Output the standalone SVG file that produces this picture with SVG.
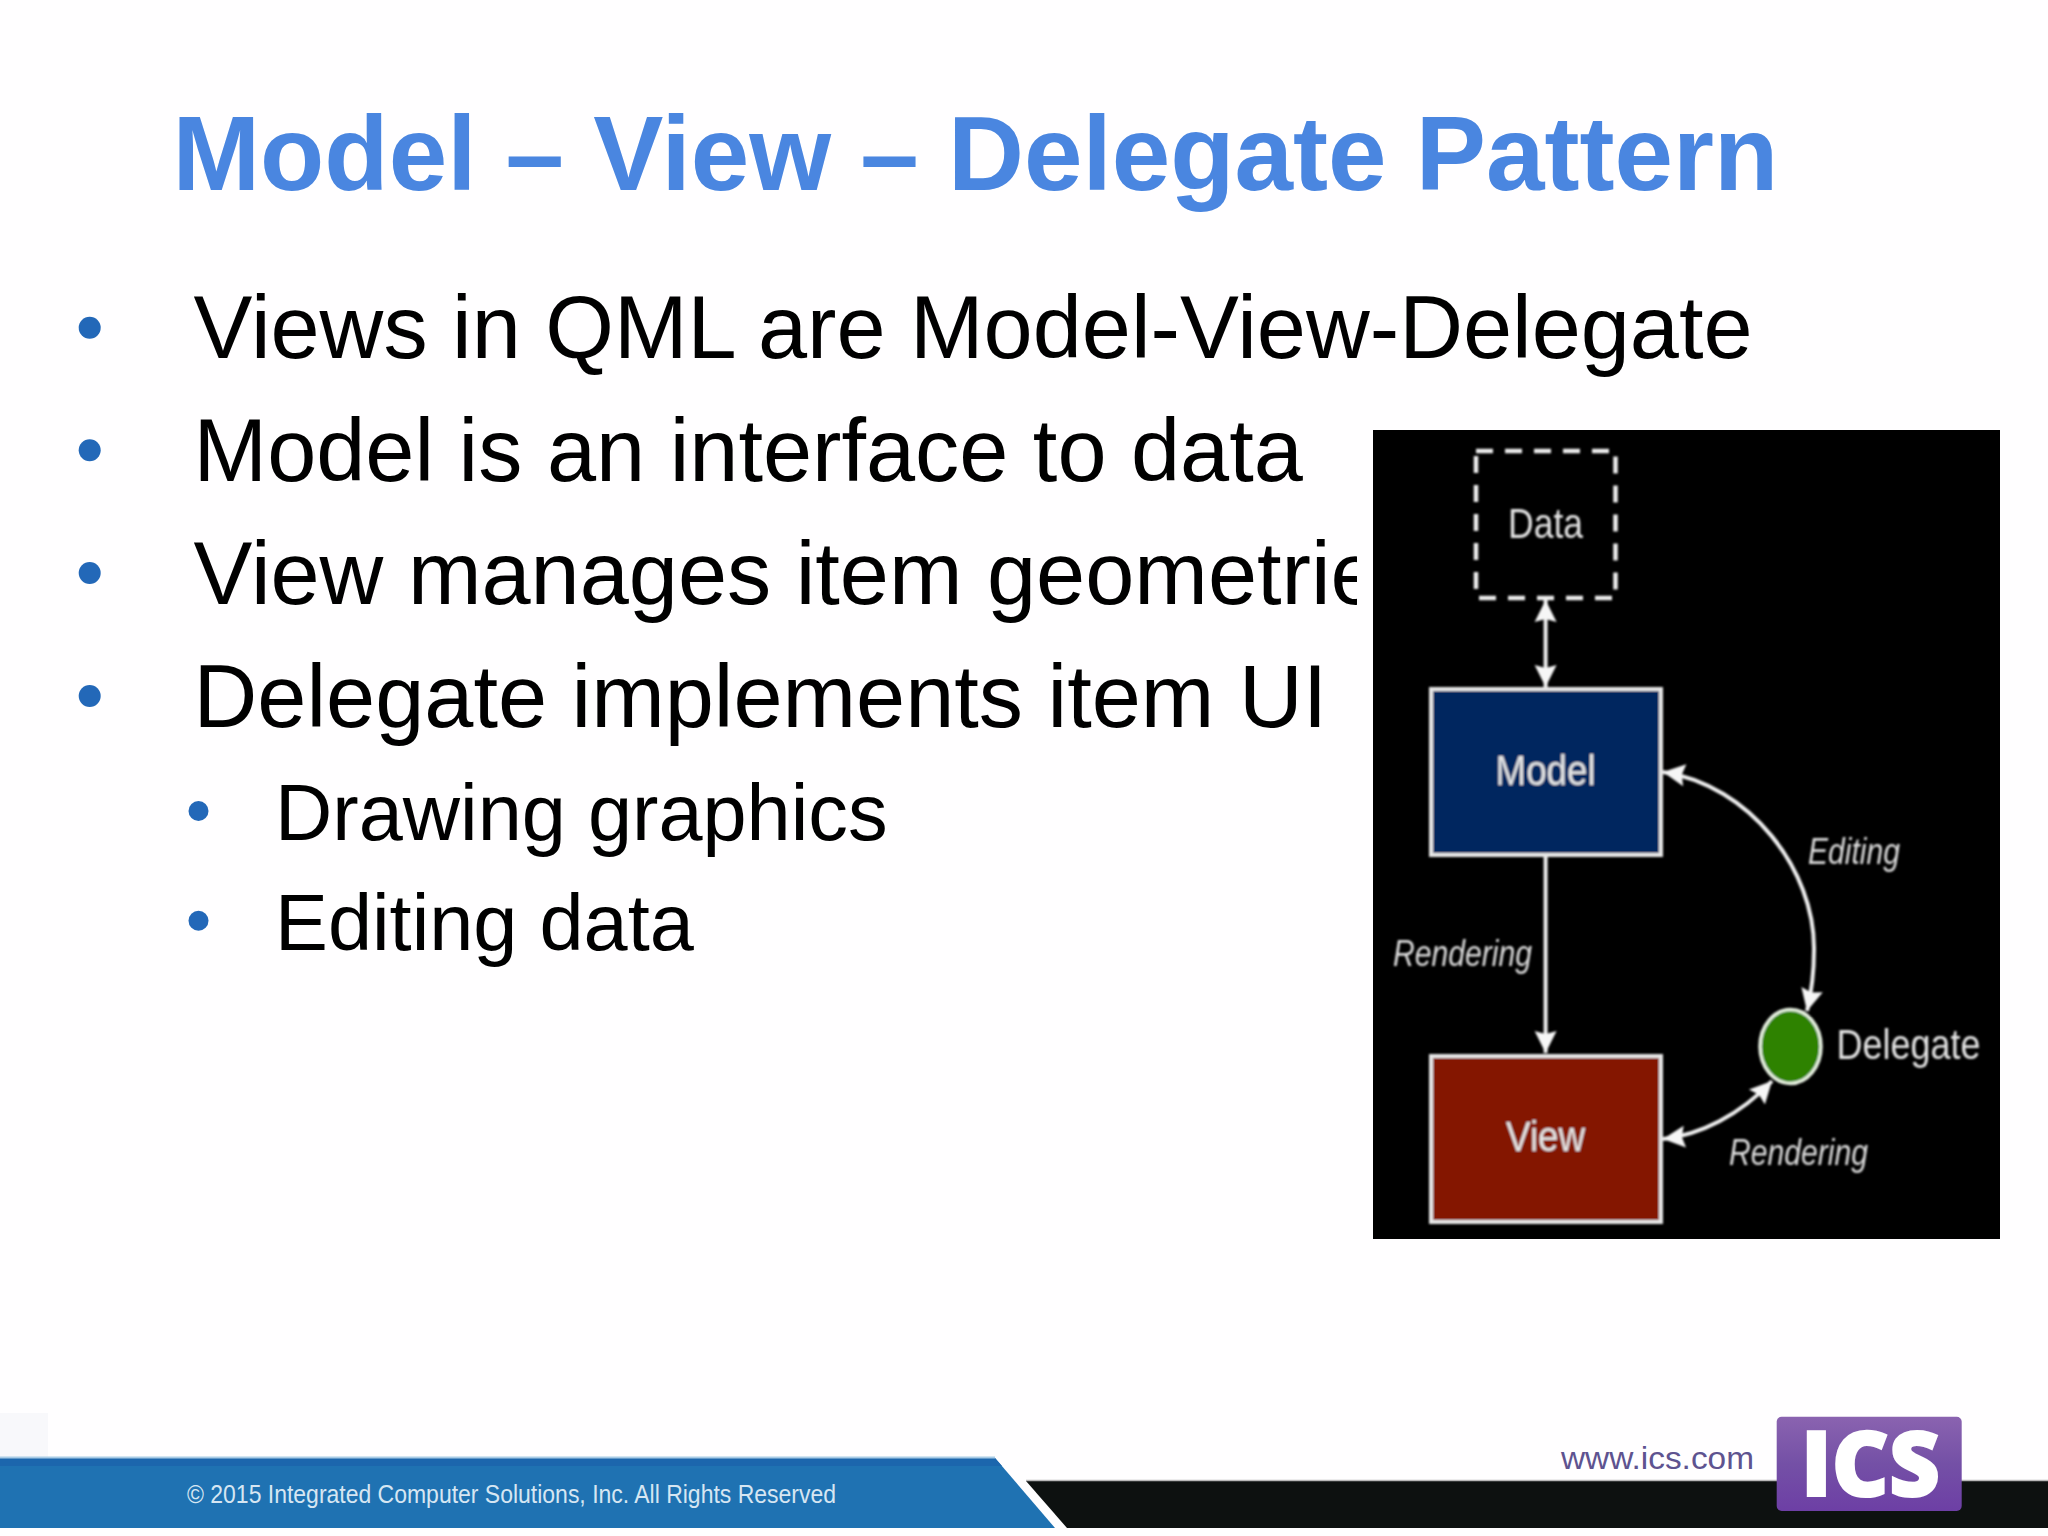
<svg xmlns="http://www.w3.org/2000/svg" width="2048" height="1536" viewBox="0 0 2048 1536">
<style>
.title{font:bold 105.2px "Liberation Sans",Arial,sans-serif;fill:#4a86e0}
.b1{font:88.3px "Liberation Sans",Arial,sans-serif;fill:#000}
.b2{font:79.3px "Liberation Sans",Arial,sans-serif;fill:#000}
.dot1{fill:#2368b8}
.nl{font:42px "Liberation Sans",Arial,sans-serif;fill:#e4e4e4;text-anchor:middle}
.el{font:italic 36px "Liberation Sans",Arial,sans-serif;fill:#dcdcdc}
.box{stroke:#e6e6e6;stroke-width:4}
.conn{fill:none;stroke:#f0f0f0;stroke-width:4;marker-end:url(#ah)}
.both{marker-start:url(#ahs)}
</style>
<defs>
<marker id="ah" markerUnits="userSpaceOnUse" markerWidth="24" markerHeight="24" refX="22" refY="12" orient="auto"><path d="M0,1L22,12L0,23L3,12Z" fill="#f6f6f6"/></marker>
<marker id="ahs" markerUnits="userSpaceOnUse" markerWidth="24" markerHeight="24" refX="0" refY="12" orient="auto"><path d="M22,1L0,12L22,23L19,12Z" fill="#f6f6f6"/></marker>
<filter id="soft" x="-5%" y="-5%" width="110%" height="110%"><feGaussianBlur stdDeviation="0.8"/></filter>
<linearGradient id="logo" x1="0" y1="0" x2="0" y2="1"><stop offset="0" stop-color="#8a63b0"/><stop offset="0.5" stop-color="#7450a6"/><stop offset="1" stop-color="#6d3fa5"/></linearGradient>
</defs>
<rect id="background" width="2048" height="1536" fill="#fffeff"/>
<rect x="0" y="1413" width="48" height="44" fill="#f8f8fb"/>
<text class="title" x="172.5" y="190">Model – View – Delegate Pattern</text>
<g id="bullets">
<circle class="dot1" cx="89.7" cy="327.7" r="11"/>
<circle class="dot1" cx="89.7" cy="450.3" r="11"/>
<circle class="dot1" cx="89.7" cy="573" r="11"/>
<circle class="dot1" cx="89.7" cy="696" r="11"/>
<circle class="dot1" cx="198.5" cy="811" r="10"/>
<circle class="dot1" cx="198.5" cy="920.7" r="10"/>
<text class="b1" x="193.6" y="358.3">Views in QML are Model-View-Delegate</text>
<text class="b1" x="193.6" y="481">Model is an interface to data</text>
<text class="b1" x="193.6" y="604">View manages item geometrie</text>
<text class="b1" x="193.6" y="727">Delegate implements item UI</text>
<text class="b2" x="275" y="839.5">Drawing graphics</text>
<text class="b2" x="275" y="949.5">Editing data</text>
</g>
<rect x="1357" y="530" width="16" height="90" fill="#fffeff"/>
<rect id="panel" x="1373" y="430" width="627" height="809" fill="#000"/>
<g filter="url(#soft)">
<g id="connectors">
<path class="conn both" d="M1545.6,600V687"/>
<path class="conn" d="M1545.6,855V1053"/>
<path class="conn both" d="M1663,772C1750,785 1815,870 1814,950C1814,970 1812,990 1807,1011"/>
<path class="conn both" d="M1663,1139C1700,1135 1740,1115 1772,1081"/>
</g>
<g id="data"><rect x="1476" y="451" width="139.5" height="147" fill="none" stroke="#eee" stroke-width="4.5" stroke-dasharray="17 12"/><text class="nl" x="1545.6" y="537.5" textLength="75" lengthAdjust="spacingAndGlyphs">Data</text></g>
<g id="model"><rect class="box" x="1431" y="689" width="230" height="166" fill="#02255f"/><text class="nl" x="1545.6" y="785" textLength="100" lengthAdjust="spacingAndGlyphs">Model</text></g>
<g id="view"><rect class="box" x="1431" y="1056" width="230" height="166" fill="#841800"/><text class="nl" x="1545.6" y="1151" textLength="79" lengthAdjust="spacingAndGlyphs">View</text></g>
<g id="delegate"><ellipse cx="1790.5" cy="1046.5" rx="30.5" ry="37" fill="#2e8200" stroke="#e6f0e0" stroke-width="3.5"/><text class="nl" x="1908.5" y="1059" textLength="144" lengthAdjust="spacingAndGlyphs">Delegate</text></g>
<text class="el" x="1808" y="864" textLength="92" lengthAdjust="spacingAndGlyphs">Editing</text>
<text class="el" x="1393" y="966" textLength="139" lengthAdjust="spacingAndGlyphs">Rendering</text>
<text class="el" x="1729" y="1165" textLength="139" lengthAdjust="spacingAndGlyphs">Rendering</text>
</g>
<g id="footer">
<path d="M0,1458H995L1055,1528H0Z" fill="#1f72b2"/>
<path d="M0,1458H995L1002,1466H0Z" fill="#1c66ad"/>
<path d="M0,1457.5H995" stroke="#a8cbe6" stroke-width="2"/>
<path d="M1026,1481H2048V1528H1067Z" fill="#0d1110"/>
<path d="M1026,1480.5H2048" stroke="#b8b8b8" stroke-width="1.5"/>
<text x="187" y="1503" font-family="'Liberation Sans',Arial,sans-serif" font-size="25" fill="#d6e6f2" textLength="649" lengthAdjust="spacingAndGlyphs">© 2015 Integrated Computer Solutions, Inc. All Rights Reserved</text>
<text x="1561" y="1469" font-family="'Liberation Sans',Arial,sans-serif" font-size="32" fill="#5e5390" textLength="193" lengthAdjust="spacingAndGlyphs">www.ics.com</text>
<g id="logo-ics"><rect x="1776.7" y="1416.7" width="185" height="94.3" rx="5" fill="url(#logo)"/>
<text x="1801" y="1496" font-family="'Open Sans','Liberation Sans',sans-serif" font-weight="800" font-size="91" fill="#fff" stroke="#fff" stroke-width="2" textLength="139" lengthAdjust="spacingAndGlyphs">ICS</text></g>
</g>
</svg>
